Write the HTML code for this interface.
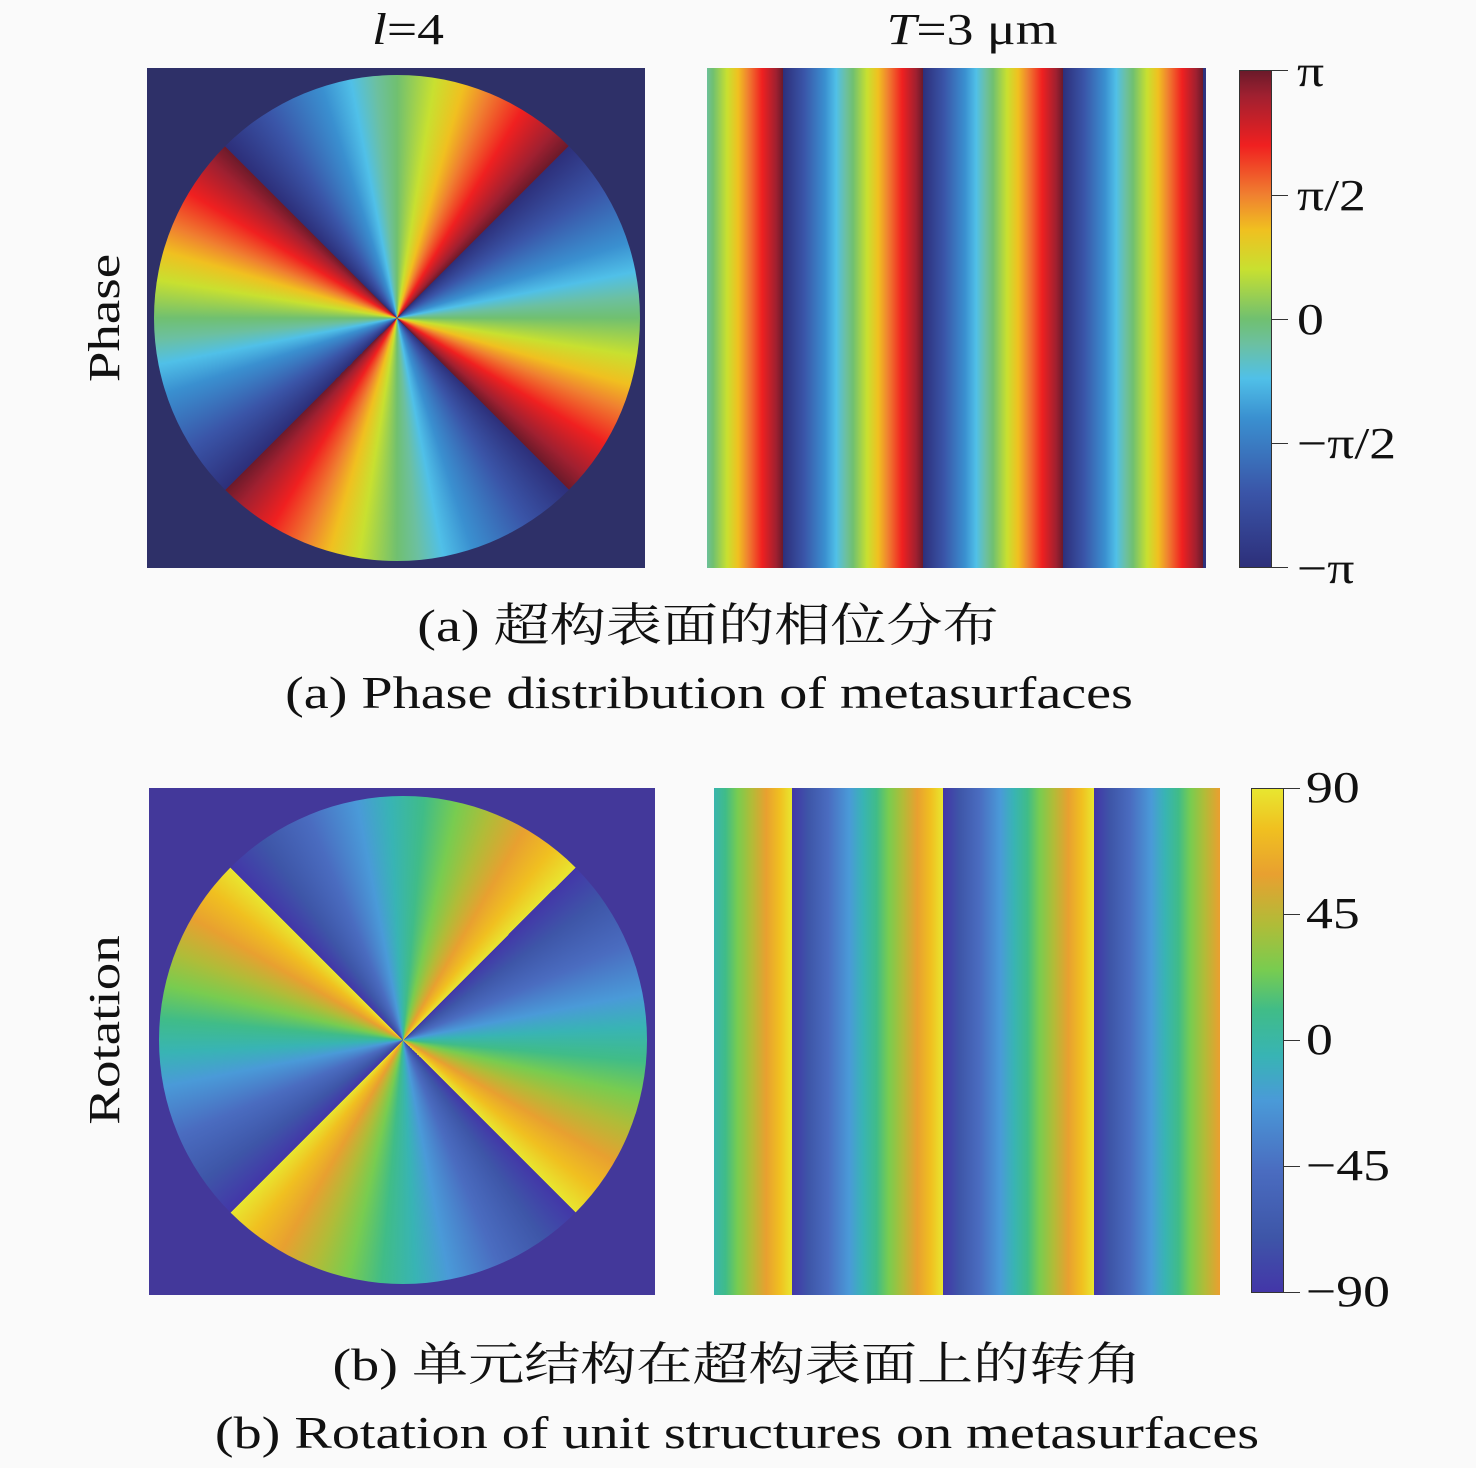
<!DOCTYPE html>
<html><head><meta charset="utf-8"><style>
body{margin:0;width:1476px;height:1468px;background:#fafafa;position:relative;overflow:hidden;font-family:"Liberation Serif","Times New Roman","Noto Serif CJK SC",serif;color:#111}
.a{position:absolute}
.t{position:absolute;font-size:44px;line-height:1;white-space:nowrap;transform-origin:0 50%;transform:scaleX(1.22)}
.c{transform-origin:50% 50%;transform:translate(-50%,-50%) scaleX(1.22)}
</style></head><body>
<div class="a" style="left:147px;top:68px;width:498px;height:500px;background:#2e3068;overflow:hidden">
 <div class="a" style="left:7px;top:7px;width:486px;height:486px;border-radius:50%;background:repeating-conic-gradient(from 45deg at 50% 50%,#2d2f7a 0deg,#3a55a8 13deg,#3a90d0 27deg,#50c0e8 34deg,#6cc0a0 40deg,#70c070 45deg,#c8e030 54deg,#f0c020 61deg,#f08030 67deg,#f02020 76deg,#a02030 85deg,#6b1a2a 90deg)"></div>
</div>
<div class="a" style="left:707px;top:68px;width:499px;height:500px;background:linear-gradient(90deg,#2d2f7a 0%,#3a55a8 15%,#3a90d0 30%,#50c0e8 38%,#6cc0a0 45%,#70c070 50%,#c8e030 60%,#f0c020 68%,#f08030 75%,#f02020 85%,#a02030 95%,#6b1a2a 100%);background-size:140px 100%;background-position:76px 0"></div>
<div class="a" style="left:1239px;top:70px;width:33px;height:498px;border:1px solid #333;box-sizing:border-box;background:linear-gradient(0deg,#2d2f7a 0%,#3a55a8 15%,#3a90d0 30%,#50c0e8 38%,#6cc0a0 45%,#70c070 50%,#c8e030 60%,#f0c020 68%,#f08030 75%,#f02020 85%,#a02030 95%,#6b1a2a 100%)"></div>
<div class="a" style="left:1272px;top:70px;width:16px;height:1px;background:#333"></div>
<div class="a" style="left:1272px;top:195px;width:16px;height:1px;background:#333"></div>
<div class="a" style="left:1272px;top:319px;width:16px;height:1px;background:#333"></div>
<div class="a" style="left:1272px;top:443px;width:16px;height:1px;background:#333"></div>
<div class="a" style="left:1272px;top:567px;width:16px;height:1px;background:#333"></div>
<div class="t" style="left:1297px;top:50px">π</div>
<div class="t" style="left:1297px;top:174px">π/2</div>
<div class="t" style="left:1297px;top:298px">0</div>
<div class="t" style="left:1297px;top:422px">−π/2</div>
<div class="t" style="left:1297px;top:547px">−π</div>

<div class="a" style="left:149px;top:788px;width:506px;height:507px;background:#43389a;overflow:hidden">
 <div class="a" style="left:10px;top:8px;width:488px;height:488px;border-radius:50%;background:repeating-conic-gradient(from -45deg at 50% 50%,#4336a8 0deg,#3e56a8 10deg,#4a6cc0 22deg,#4a9ad8 34deg,#38b4b4 42deg,#40bc88 50deg,#78cc50 58deg,#b0bc38 66deg,#e8a030 75deg,#f0c020 83deg,#e8e630 90deg)"></div>
</div>
<div class="a" style="left:714px;top:788px;width:506px;height:507px;background:linear-gradient(90deg,#4336a8 0%,#3e56a8 11%,#4a6cc0 24%,#4a9ad8 38%,#38b4b4 47%,#40bc88 56%,#78cc50 64%,#b0bc38 73%,#e8a030 83%,#f0c020 92%,#e8e630 100%);background-size:151px 100%;background-position:78px 0"></div>
<div class="a" style="left:1251px;top:788px;width:33px;height:505px;border:1px solid #333;box-sizing:border-box;background:linear-gradient(0deg,#4336a8 0%,#3e56a8 11%,#4a6cc0 24%,#4a9ad8 38%,#38b4b4 47%,#40bc88 56%,#78cc50 64%,#b0bc38 73%,#e8a030 83%,#f0c020 92%,#e8e630 100%)"></div>
<div class="a" style="left:1284px;top:788px;width:16px;height:1px;background:#333"></div>
<div class="a" style="left:1284px;top:914px;width:16px;height:1px;background:#333"></div>
<div class="a" style="left:1284px;top:1040px;width:16px;height:1px;background:#333"></div>
<div class="a" style="left:1284px;top:1166px;width:16px;height:1px;background:#333"></div>
<div class="a" style="left:1284px;top:1292px;width:16px;height:1px;background:#333"></div>
<div class="t" style="left:1306px;top:766px">90</div>
<div class="t" style="left:1306px;top:892px">45</div>
<div class="t" style="left:1306px;top:1018px">0</div>
<div class="t" style="left:1306px;top:1144px">−45</div>
<div class="t" style="left:1306px;top:1270px">−90</div>

<div class="t c" style="left:408px;top:30px"><i>l</i>=4</div>
<div class="t c" style="left:972px;top:30px"><i>T</i>=3 μm</div>
<div class="t" style="left:105px;top:318px;transform-origin:50% 50%;transform:translate(-50%,-50%) rotate(-90deg) scaleX(1.25)">Phase</div>
<div class="t" style="left:105px;top:1030px;transform-origin:50% 50%;transform:translate(-50%,-50%) rotate(-90deg) scaleX(1.25)">Rotation</div>
<div class="t c" style="left:708px;top:626px;font-size:46px">(a) 超构表面的相位分布</div>
<div class="t c" style="left:709px;top:693px;font-size:46px">(a) Phase distribution of metasurfaces</div>
<div class="t c" style="left:737px;top:1365px;font-size:46px">(b) 单元结构在超构表面上的转角</div>
<div class="t c" style="left:737px;top:1433px;font-size:46px">(b) Rotation of unit structures on metasurfaces</div>
</body></html>
